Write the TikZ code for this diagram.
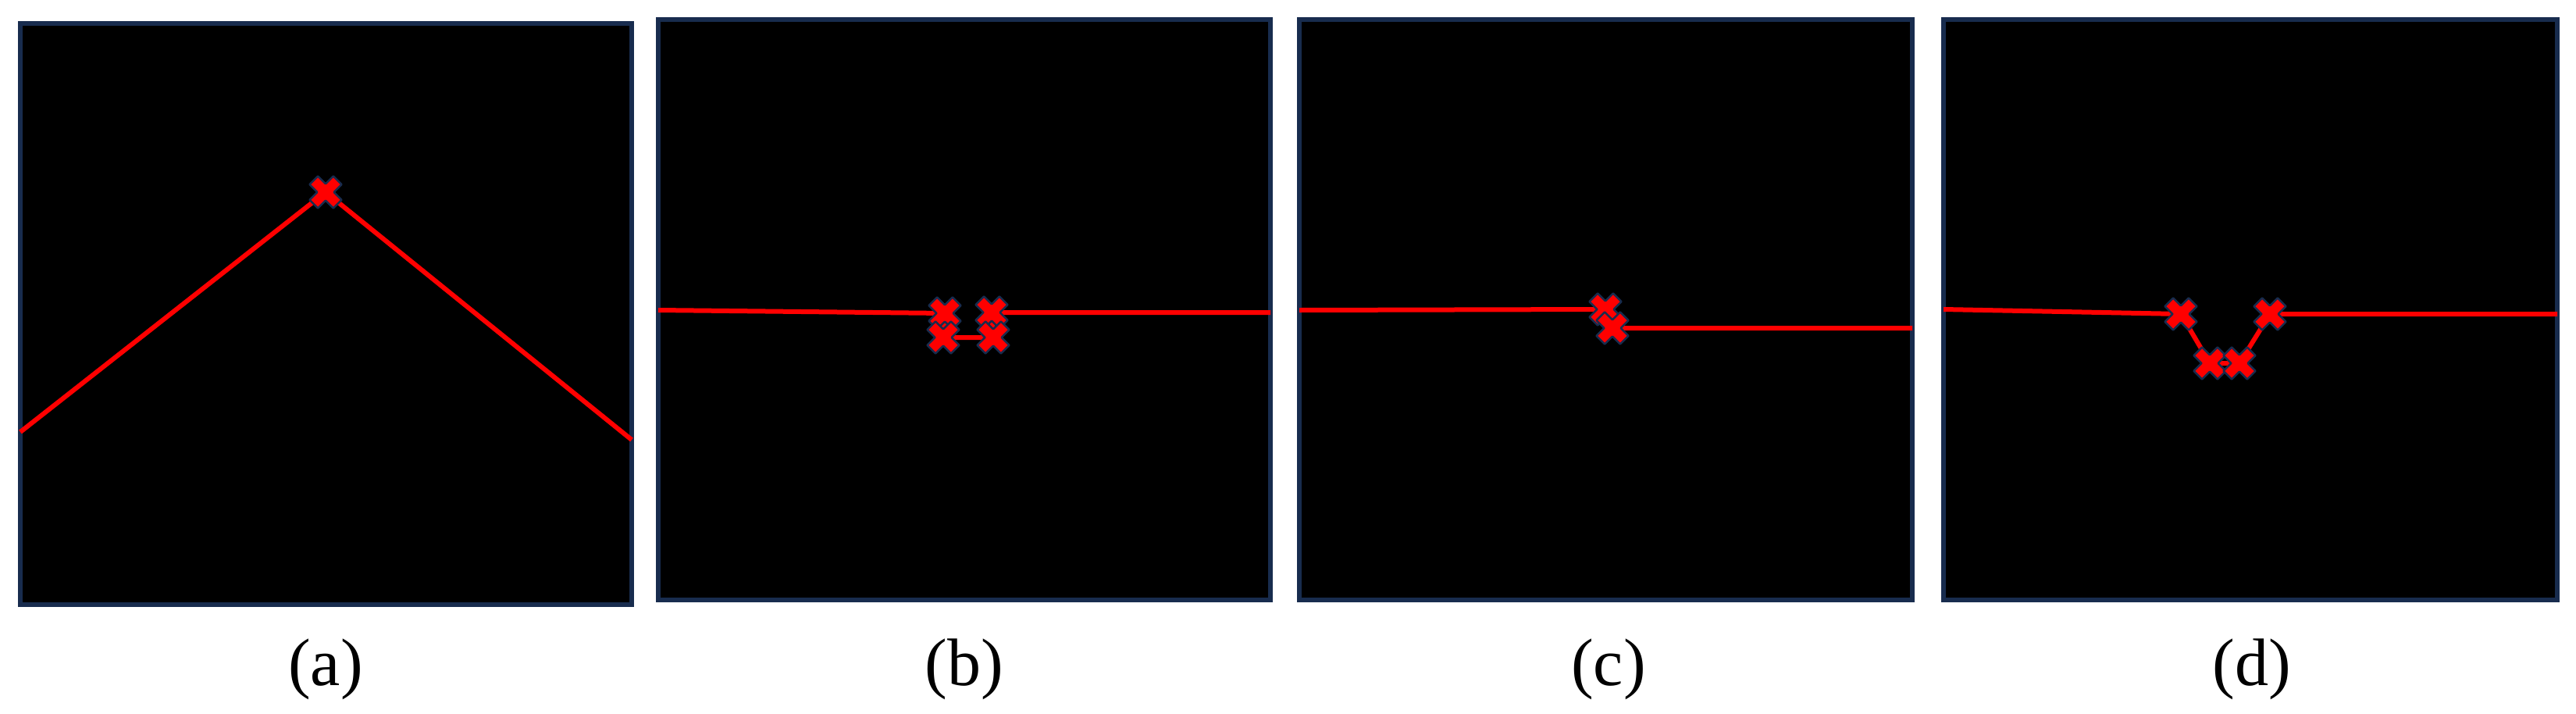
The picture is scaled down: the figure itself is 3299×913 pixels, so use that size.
\documentclass[tikz,border=0pt]{standalone}
\usepackage{fontspec}
\setmainfont{Liberation Serif}
\definecolor{navy}{RGB}{24,44,78}
\begin{document}
\begin{tikzpicture}[x=1pt,y=-1pt,
  panel/.style={draw=navy, fill=black, line width=6pt},
  trace/.style={draw=red, line width=6pt, line join=round},
  lbl/.style={anchor=base, inner sep=0pt, font=\fontsize{86}{100}\selectfont},
  crossmark/.pic={\filldraw[fill=red, draw=navy, line width=2.4pt, line join=round, rotate=45]
    (-7.5,21.5) -- (7.5,21.5) -- (7.5,7.5) -- (21.5,7.5) -- (21.5,-7.5) -- (7.5,-7.5) -- (7.5,-21.5) -- (-7.5,-21.5)
    -- (-7.5,-7.5) -- (-21.5,-7.5) -- (-21.5,7.5) -- (-7.5,7.5) -- cycle;}
]
\useasboundingbox (0,0) rectangle (3299,913);

% panels
\draw[panel] (26,30) rectangle (809,774);
\draw[panel] (843,25) rectangle (1627,768);
\draw[panel] (1664,25) rectangle (2449,768);
\draw[panel] (2489,25) rectangle (3275,768);

% (a)
\coordinate (aL) at (26,553);
\coordinate (aP) at (417,246);
\coordinate (aR) at (809,563);
\draw[trace] (aL) -- (aP) -- (aR);
\pic at (aP) {crossmark};

% (b)
\coordinate (bL) at (843,397);
\coordinate (b1) at (1210,401);
\coordinate (b2) at (1208,432);
\coordinate (b3) at (1272,432);
\coordinate (b4) at (1270,400);
\coordinate (bR) at (1627,400);
\draw[trace] (bL) -- (b1) -- (b2) -- (b3) -- (b4) -- (bR);
\pic at (b1) {crossmark};
\pic at (b4) {crossmark};
\pic at (b2) {crossmark};
\pic at (b3) {crossmark};

% (c)
\coordinate (cL) at (1664,397);
\coordinate (c1) at (2056,396);
\coordinate (c2) at (2065,420);
\coordinate (cR) at (2449,420);
\draw[trace] (cL) -- (c1) -- (c2) -- (cR);
\pic at (c1) {crossmark};
\pic at (c2) {crossmark};

% (d)
\coordinate (dL) at (2489,396);
\coordinate (d1) at (2793,402);
\coordinate (d2) at (2830,465);
\coordinate (d3) at (2868,465);
\coordinate (d4) at (2907,402);
\coordinate (dR) at (3275,402);
\draw[trace] (dL) -- (d1) -- (d2) -- (d3) -- (d4) -- (dR);
\pic at (d1) {crossmark};
\pic at (d4) {crossmark};
\pic at (d2) {crossmark};
\pic at (d3) {crossmark};

% labels
\node[lbl] (la) at (417,877) {(a)};
\node[lbl] (lb) at (1235,877) {(b)};
\node[lbl] (lc) at (2060,877) {(c)};
\node[lbl] (ld) at (2884,877) {(d)};
\end{tikzpicture}
\end{document}
